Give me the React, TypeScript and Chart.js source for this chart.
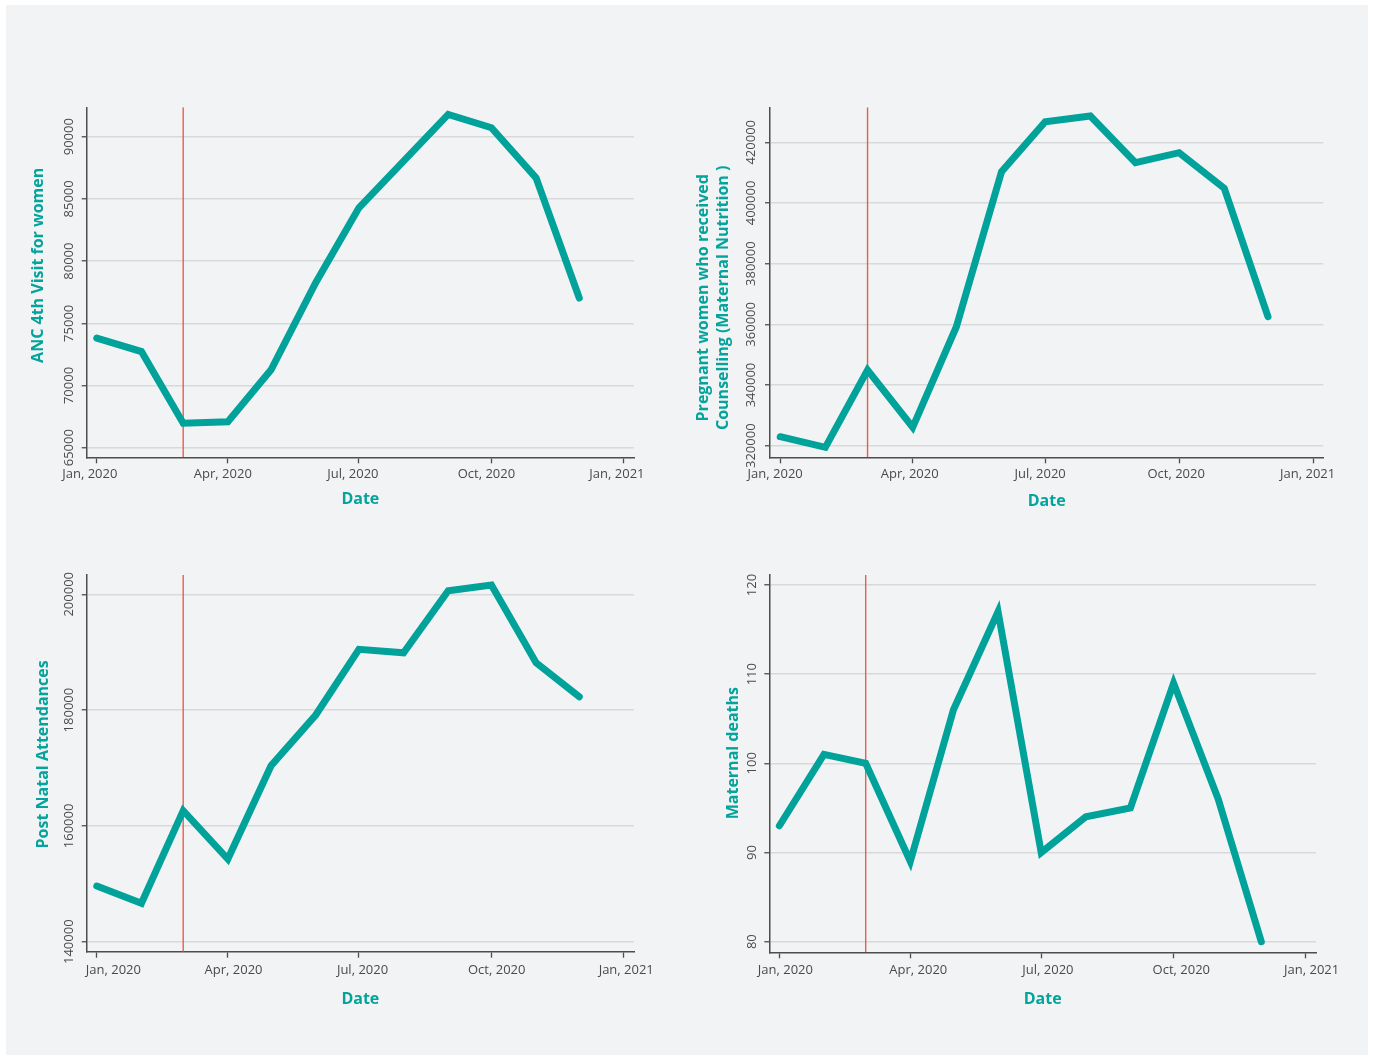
import React, { useEffect, useRef } from "react";
import { Chart, registerables } from "chart.js";

Chart.register(...registerables);

const FONT = "'Open Sans', 'Noto Sans', sans-serif";
const TEAL = "#00a29a";
const TITLE_TEAL = "#04a39b";
const MARKER_RED = "#ec5c48";
const TICK_TEXT = "#4a4a4a";
const GRID = "#d8d9db";
const AXIS = "#4d4d4d";

// Month starts of 2020, counted in days from 1 Jan 2020
const monthStartDays = [0, 31, 60, 91, 121, 152, 182, 213, 244, 274, 305, 335];
const xTickDays = [0, 91, 182, 274, 366];
const xTickLabels = ["Jan, 2020", "Apr, 2020", "Jul, 2020", "Oct, 2020", "Jan, 2021"];
const markerDay = 60; // 1 Mar 2020
const xRange: [number, number] = [-7, 373];

const ancFourthVisits = [73810, 72730, 66970, 67090, 71260, 78260, 84280, 88040, 91790, 90720, 86690, 77030];
const ancTicks = [65000, 70000, 75000, 80000, 85000, 90000];
const ancRange: [number, number] = [64228, 92363];

const nutritionCounselling = [322970, 319470, 344950, 326070, 359220, 410310, 426790, 428670, 413280, 416570, 404840, 362520];
const nutritionTicks = [320000, 340000, 360000, 380000, 400000, 420000];
const nutritionRange: [number, number] = [316177, 431536];

const postNatalAttendances = [149620, 146630, 162630, 154280, 170400, 179150, 190500, 189900, 200620, 201600, 188190, 182310];
const postNatalTicks = [140000, 160000, 180000, 200000];
const postNatalRange: [number, number] = [138273, 203333];

const maternalDeaths = [93, 101, 100, 89, 106, 117, 90, 94, 95, 109, 96, 80];
const deathTicks = [80, 90, 100, 110, 120];
const deathRange: [number, number] = [78.81, 121.12];

type Box = { left: number; top: number; width: number; height: number };
type Area = { left: number; top: number; right: number; bottom: number };

type PanelSpec = {
  box: Box;
  area: Area;
  values: number[];
  yTicks: number[];
  yRange: [number, number];
  yTitle: string[];
  titleOffsetX: number;
  titleShiftY: number;
  tickLabelOffset: number;
  xLabelShift: number[];
  xLabelBaseline: number;
  dateOffset: number;
};

const panels: PanelSpec[] = [
  {
    box: { left: 0, top: 60, width: 680, height: 470 },
    area: { left: 86.7, top: 107.3, right: 634, bottom: 457.3 },
    values: ancFourthVisits,
    yTicks: ancTicks,
    yRange: ancRange,
    yTitle: ["ANC 4th Visit for women"],
    titleOffsetX: 48.7,
    titleShiftY: -17,
    tickLabelOffset: 17.2,
    xLabelShift: [-7, -5, -6, -5, -7],
    xLabelBaseline: 21,
    dateOffset: 41.7,
  },
  {
    box: { left: 680, top: 60, width: 690, height: 470 },
    area: { left: 770, top: 107.3, right: 1323.3, bottom: 457.3 },
    values: nutritionCounselling,
    yTicks: nutritionTicks,
    yRange: nutritionRange,
    yTitle: ["Pregnant women who received", "Counselling (Maternal Nutrition )"],
    titleOffsetX: 67,
    titleShiftY: 15.5,
    tickLabelOffset: 18.5,
    xLabelShift: [-5, -3, -5, -3, -5.5],
    xLabelBaseline: 21,
    dateOffset: 44.2,
  },
  {
    box: { left: 0, top: 530, width: 680, height: 500 },
    area: { left: 86.7, top: 575, right: 634, bottom: 951.7 },
    values: postNatalAttendances,
    yTicks: postNatalTicks,
    yRange: postNatalRange,
    yTitle: ["Post Natal Attendances"],
    titleOffsetX: 43.7,
    titleShiftY: -9,
    tickLabelOffset: 17.2,
    xLabelShift: [16.6, 5.7, 3.6, 5.3, 2.3],
    xLabelBaseline: 22.6,
    dateOffset: 47.3,
  },
  {
    box: { left: 680, top: 530, width: 690, height: 500 },
    area: { left: 769.3, top: 575, right: 1316, bottom: 952.3 },
    values: maternalDeaths,
    yTicks: deathTicks,
    yRange: deathRange,
    yTitle: ["Maternal deaths"],
    titleOffsetX: 36.3,
    titleShiftY: -10.5,
    tickLabelOffset: 17.3,
    xLabelShift: [6, 8, 6.7, 7.7, 5.7],
    xLabelBaseline: 22,
    dateOffset: 47.2,
  },
];

// Tick labels of both axes and the y axis title, placed from the chart's scales
function axisLabels(spec: PanelSpec) {
  return {
    id: "axisLabels",
    afterDraw(chart: any) {
      const { ctx, chartArea, scales } = chart;
      const x = scales.x;
      const y = scales.y;
      ctx.save();
      ctx.fillStyle = TICK_TEXT;
      ctx.font = `13px ${FONT}`;

      // y tick labels, turned to read upwards
      ctx.textAlign = "center";
      ctx.textBaseline = "middle";
      for (const t of y.ticks) {
        const py = y.getPixelForValue(t.value);
        ctx.save();
        ctx.translate(chartArea.left - spec.tickLabelOffset, py);
        ctx.rotate(-Math.PI / 2);
        ctx.fillText(String(t.value), 0, 0);
        ctx.restore();
      }

      // x tick labels
      ctx.textBaseline = "alphabetic";
      x.ticks.forEach((t: any, i: number) => {
        const px = x.getPixelForValue(t.value) + (spec.xLabelShift[i] || 0);
        ctx.fillText(xTickLabels[i], px, chartArea.bottom + spec.xLabelBaseline);
      });

      // y axis title
      ctx.fillStyle = TITLE_TEAL;
      ctx.font = `bold 16px ${FONT}`;
      ctx.textBaseline = "middle";
      const cy = (chartArea.top + chartArea.bottom) / 2 + spec.titleShiftY;
      spec.yTitle.forEach((line, i) => {
        ctx.save();
        ctx.translate(chartArea.left - spec.titleOffsetX + i * 20, cy);
        ctx.rotate(-Math.PI / 2);
        ctx.fillText(line, 0, 0);
        ctx.restore();
      });
      ctx.restore();
    },
  };
}

function Panel({ spec }: { spec: PanelSpec }) {
  const ref = useRef<HTMLCanvasElement | null>(null);

  useEffect(() => {
    if (!ref.current) return;
    const { box, area } = spec;
    const xAxisHeight = spec.dateOffset + 9.6;
    const chart = new Chart(ref.current, {
      type: "line",
      data: {
        datasets: [
          {
            data: monthStartDays.map((d, i) => ({ x: d, y: spec.values[i] })),
            borderColor: TEAL,
            borderWidth: 7,
            pointRadius: 0,
            tension: 0,
            fill: false,
            borderCapStyle: "round",
            borderJoinStyle: "miter",
          },
          {
            data: [
              { x: markerDay, y: spec.yRange[0] },
              { x: markerDay, y: spec.yRange[1] },
            ],
            borderColor: MARKER_RED,
            borderWidth: 1.4,
            pointRadius: 0,
            fill: false,
          },
        ],
      },
      options: {
        animation: false,
        responsive: false,
        maintainAspectRatio: false,
        events: [],
        layout: {
          padding: {
            left: 0,
            top: area.top - box.top,
            right: box.left + box.width - area.right,
            bottom: box.top + box.height - area.bottom - xAxisHeight,
          },
        },
        plugins: {
          legend: { display: false },
          tooltip: { enabled: false },
        },
        scales: {
          x: {
            type: "linear",
            min: xRange[0],
            max: xRange[1],
            afterBuildTicks: (s: any) => {
              s.ticks = xTickDays.map((v) => ({ value: v }));
            },
            afterFit: (s: any) => {
              s.height = xAxisHeight;
            },
            ticks: { display: false, autoSkip: false },
            grid: {
              drawOnChartArea: false,
              drawTicks: true,
              tickLength: 6,
              tickColor: AXIS,
              tickWidth: 1.3,
            },
            border: { display: true, color: AXIS, width: 1.5 },
            title: {
              display: true,
              text: "Date",
              color: TITLE_TEAL,
              font: { size: 16, weight: "bold", family: FONT },
              padding: 0,
            },
          },
          y: {
            type: "linear",
            min: spec.yRange[0],
            max: spec.yRange[1],
            afterBuildTicks: (s: any) => {
              s.ticks = spec.yTicks.map((v) => ({ value: v }));
            },
            afterFit: (s: any) => {
              s.width = area.left - box.left;
            },
            ticks: { display: false },
            grid: {
              color: GRID,
              lineWidth: 1.5,
              drawTicks: true,
              tickLength: 5,
              tickColor: AXIS,
              tickWidth: 1.3,
            },
            border: { display: true, color: AXIS, width: 1.5 },
          },
        },
      } as any,
      plugins: [axisLabels(spec)],
    });
    return () => chart.destroy();
  }, [spec]);

  return (
    <canvas
      ref={ref}
      width={spec.box.width}
      height={spec.box.height}
      style={{
        position: "absolute",
        left: spec.box.left,
        top: spec.box.top,
        width: spec.box.width,
        height: spec.box.height,
      }}
    />
  );
}

export default function App() {
  return (
    <div
      style={{
        position: "absolute",
        left: 0,
        top: 0,
        width: 1375,
        height: 1057,
        background: "#ffffff",
        overflow: "hidden",
      }}
    >
      <div
        style={{
          position: "absolute",
          left: 6,
          top: 5,
          width: 1362,
          height: 1050,
          background: "#f2f3f5",
        }}
      />
      {panels.map((p, i) => (
        <Panel key={i} spec={p} />
      ))}
    </div>
  );
}
